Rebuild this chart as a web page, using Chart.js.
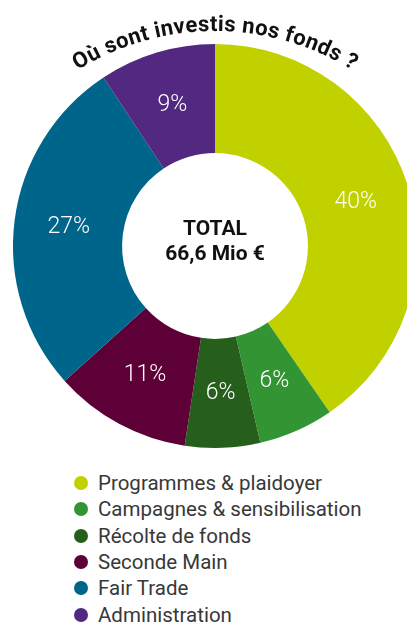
<!DOCTYPE html>
<html>
<head>
<meta charset="utf-8">
<script src="https://cdn.jsdelivr.net/npm/chart.js@4/dist/chart.umd.min.js"></script>
<style>
body { margin: 0; background: #fff; width: 407px; height: 623px; overflow: hidden; font-family: Roboto, sans-serif; }
#wrap { position: relative; width: 407px; height: 460px; }
#legend { list-style: none; margin: 0; padding: 0 0 0 74px; position: absolute; top: 470px; left: 0; }
#legend li { height: 26.3px; display: flex; align-items: center; font-size: 20.5px; color: #383838; white-space: nowrap; }
#legend .dot { width: 14px; height: 14px; border-radius: 50%; margin-right: 10px; flex: none; }
</style>
</head>
<body>
<div id="wrap"><canvas id="myChart" width="407" height="460"></canvas></div>
<ul id="legend"></ul>
<script>
// where the money goes, in Mio €
var categories = ["Programmes & plaidoyer", "Campagnes & sensibilisation", "Récolte de fonds", "Seconde Main", "Fair Trade", "Administration"];
var amounts = [26.9, 4.0, 4.0, 7.3, 18.2, 6.2];
var colours = ["#c1d100", "#339433", "#265e1b", "#5e0038", "#00658a", "#532880"];
var titleText = "Où sont investis nos fonds ?";
var centerLines = ["TOTAL", "66,6 Mio €"];

function pct(v) {
	var sum = 0;
	for (var i = 0; i < amounts.length; i++) sum += amounts[i];
	return Math.round(v / sum * 100) + "%";
}

var labelsPlugin = {
	id: 'sliceLabels',
	afterDatasetsDraw: function(chart) {
		var ctx = chart.ctx;
		var meta = chart.getDatasetMeta(0);
		ctx.save();
		ctx.fillStyle = '#fff';
		ctx.font = '300 23px Roboto';
		ctx.textAlign = 'center';
		ctx.textBaseline = 'middle';
		meta.data.forEach(function(arc, i) {
			var p = arc.tooltipPosition();
			ctx.fillText(pct(amounts[i]), p.x, p.y);
		});
		ctx.restore();
	}
};

var centerPlugin = {
	id: 'centerText',
	afterDraw: function(chart) {
		var ctx = chart.ctx;
		var arc = chart.getDatasetMeta(0).data[0];
		ctx.save();
		ctx.fillStyle = '#111';
		ctx.font = 'bold 21px Roboto';
		ctx.textAlign = 'center';
		ctx.textBaseline = 'middle';
		ctx.fillText(centerLines[0], arc.x, arc.y - 16);
		ctx.fillText(centerLines[1], arc.x, arc.y + 9);

		// title bent along an arc above the ring
		var cx = arc.x, cy = arc.y + 46, r = arc.outerRadius + 59;
		var spacing = 0.4;
		ctx.font = 'bold 22px Roboto';
		ctx.textBaseline = 'alphabetic';
		var total = ctx.measureText(titleText).width + spacing * (titleText.length - 1);
		var a = -total / 2 / r;
		for (var i = 0; i < titleText.length; i++) {
			var ch = titleText[i];
			var w = ctx.measureText(ch).width;
			var ang = a + w / 2 / r;
			ctx.save();
			ctx.translate(cx + r * Math.sin(ang), cy - r * Math.cos(ang));
			ctx.rotate(ang);
			ctx.fillText(ch, 0, 0);
			ctx.restore();
			a += (w + spacing) / r;
		}
		ctx.restore();
	}
};

var htmlLegend = {
	id: 'htmlLegend',
	afterUpdate: function(chart) {
		var ul = document.getElementById('legend');
		ul.innerHTML = '';
		var items = chart.options.plugins.legend.labels.generateLabels(chart);
		items.forEach(function(item) {
			var li = document.createElement('li');
			var dot = document.createElement('span');
			dot.className = 'dot';
			dot.style.background = item.fillStyle;
			li.appendChild(dot);
			li.appendChild(document.createTextNode(item.text));
			ul.appendChild(li);
		});
	}
};

var ctx = document.getElementById('myChart').getContext('2d');
var chart = new Chart(ctx, {
	type: 'doughnut',
	data: {
		labels: categories,
		datasets: [{
			data: amounts,
			backgroundColor: colours,
			borderWidth: 0,
			radius: 202,
			cutout: '46%'
		}]
	},
	options: {
		responsive: false,
		animation: false,
		layout: { padding: { left: 23, top: 32, right: 0, bottom: 0 } },
		plugins: {
			legend: { display: false },
			tooltip: { enabled: false }
		}
	},
	plugins: [labelsPlugin, centerPlugin, htmlLegend]
});
</script>
</body>
</html>
